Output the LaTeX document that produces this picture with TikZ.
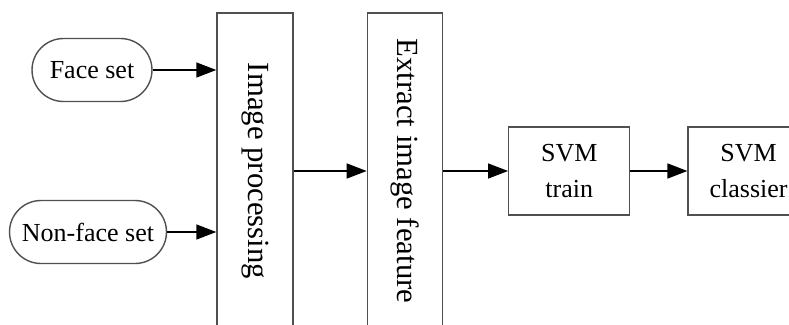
\documentclass[tikz,border=0pt]{standalone}
\usepackage{graphicx}
\usepackage{fontspec}
\setmainfont{Liberation Serif}
\usetikzlibrary{arrows.meta, positioning}
\definecolor{edgegray}{HTML}{505050}
\newcommand{\flowfont}{\fontsize{14.8}{20.5}\selectfont}
\newcommand{\tallfont}{\fontsize{17.5}{21}\selectfont}
\tikzset{
  setnode/.style={rectangle,rounded corners=0.63cm,draw=edgegray,line width=0.8pt,
    minimum height=1.26cm,inner sep=1pt,font=\flowfont},
  tallbox/.style={rectangle,draw=edgegray,line width=0.8pt,minimum width=1.5cm,
    minimum height=6.32cm,inner sep=0pt,font=\tallfont},
  svmbox/.style={rectangle,draw=edgegray,line width=0.8pt,align=center,
    minimum width=2.42cm,minimum height=1.76cm,inner sep=0pt,font=\flowfont},
  arrow/.style={-{Triangle[length=4mm,width=3mm]},line width=0.8pt},
}

\begin{document}
\begin{tikzpicture}[x=0.02cm,y=-0.02cm]
    \clip (0,0) rectangle (789,325);
    \node[setnode,minimum width=2.4cm] (face) at (92,70) {Face set};
    \node[setnode,minimum width=3.14cm] (nonface) at (88,232) {Non-face set};
    \node[tallbox,minimum width=1.52cm] (improc) at (255,171)
      {\rotatebox{-90}{Image processing}};
    \node[tallbox,right=1.46cm of improc] (feat)
      {\rotatebox{-90}{Extract image feature}};
    \node[svmbox,right=1.3cm of feat] (train) {SVM\\train};
    \node[svmbox,right=1.14cm of train] (classier) {SVM\\classier};
    \draw[arrow] (face) -- (face -| improc.west);
    \draw[arrow] (nonface) -- (nonface -| improc.west);
    \draw[arrow] (improc) -- (feat);
    \draw[arrow] (feat) -- (train);
    \draw[arrow] (train) -- (classier);
  \end{tikzpicture}
\end{document}
